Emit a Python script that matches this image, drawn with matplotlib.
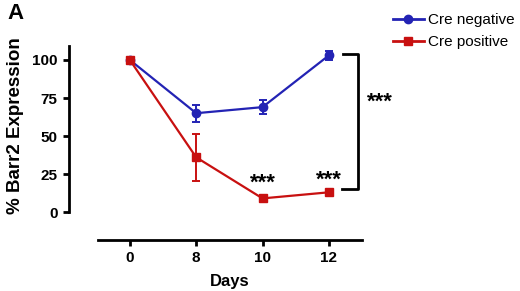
import numpy as np
import matplotlib.pyplot as plt
from matplotlib.lines import Line2D

plt.rcParams['font.family'] = ['Liberation Sans', 'DejaVu Sans']

days = ['0', '8', '10', '12']
neg_mean = [100, 65, 69, 103]
neg_err = [0, 5.5, 4.5, 3]
pos_mean = [100, 36, 9, 13]
pos_err = [0, 15.5, 2, 1]
y_ticks = [0, 25, 50, 75, 100]

blue = '#2323b4'
red = '#c81010'

fig = plt.figure(figsize=(5.2, 2.91), dpi=100)
ax = fig.add_axes([0.1885, 0.175, 0.5077, 0.667])

x = np.arange(len(days))
ax.errorbar(x, neg_mean, yerr=neg_err, color=blue, marker='o', markersize=6,
            lw=1.6, capsize=3, capthick=1.4, elinewidth=1.4,
            clip_on=False, zorder=3)
ax.errorbar(x, pos_mean, yerr=pos_err, color=red, marker='s', markersize=6,
            lw=1.6, capsize=3, capthick=1.4, elinewidth=1.4,
            clip_on=False, zorder=3)

ax.set_xlim(-0.48, 3.5)
ax.set_ylim(-18.4, 109.2)
ax.set_xticks(x)
ax.set_xticklabels(days)
ax.set_yticks(y_ticks)

for s in ['top', 'right']:
    ax.spines[s].set_visible(False)
ax.spines['left'].set_position(('outward', 21))
ax.spines['left'].set_bounds(0, 109.2)
ax.spines['left'].set_linewidth(2)
ax.spines['bottom'].set_linewidth(2)
ax.tick_params(width=2, length=4.5, labelsize=11)
for lab in ax.get_xticklabels() + ax.get_yticklabels():
    lab.set_fontweight('bold')

ax.set_xlabel('Days', fontsize=12, fontweight='bold', labelpad=6)
ax.set_ylabel('% Barr2 Expression', fontsize=13.5, fontweight='bold')
ax.yaxis.set_label_coords(-0.28, 0.588)

# significance marks
ax.text(2, 12, '***', ha='center', va='bottom', fontsize=16, fontweight='bold')
ax.text(3, 14, '***', ha='center', va='bottom', fontsize=16, fontweight='bold')
ax.plot([3.22, 3.44, 3.44, 3.2], [104, 104, 15, 15], color='black', lw=2,
        clip_on=False)
ax.text(3.58, 72, '***', ha='left', va='center', fontsize=16, fontweight='bold')

fig.text(0.015, 0.955, 'A', fontsize=16, fontweight='bold', va='center')

handles = [Line2D([], [], color=blue, marker='o', markersize=6, lw=2),
           Line2D([], [], color=red, marker='s', markersize=6, lw=2)]
fig.legend(handles, ['Cre negative', 'Cre positive'], loc='upper left',
           bbox_to_anchor=(393 / 520, 1 - 13 / 291), frameon=False, fontsize=11,
           handlelength=2.0, handletextpad=0.3, labelspacing=0.55, borderpad=0,
           borderaxespad=0)

fig.savefig('out.png', dpi=100)
